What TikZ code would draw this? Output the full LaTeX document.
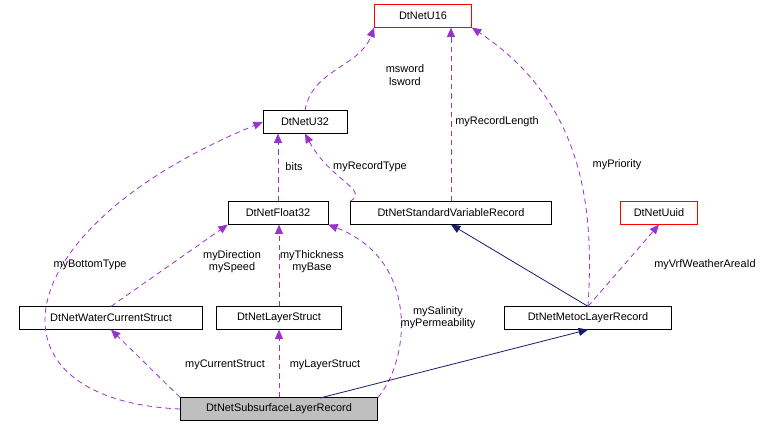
\documentclass[tikz,border=0pt]{standalone}
\usepackage{fontspec}
\setmainfont{Liberation Sans}
\usetikzlibrary{arrows.meta}
\definecolor{pur}{RGB}{153,50,204}
\definecolor{nav}{RGB}{25,25,112}
\begin{document}
\begin{tikzpicture}[x=0.75pt,y=-0.75pt,font=\fontsize{8.2}{9.2}\selectfont,
  box/.style={draw=black,fill=white,minimum height=17pt,inner xsep=2pt,anchor=center},
  redbox/.style={box,draw=red},
  dep/.style={pur,line width=0.6pt,dash pattern=on 4pt off 3pt,
    -{Triangle[length=7pt,width=6pt,fill=pur]}},
  inh/.style={nav,line width=0.6pt,
    -{Triangle[length=7pt,width=6pt,fill=nav]}},
  lbl/.style={align=center,inner sep=1pt,text=black}]
\useasboundingbox (0,0) rectangle (773,429);
\node[redbox,minimum width=73pt] (u16) at (423,16) {DtNetU16};
\node[box,minimum width=63pt] (u32) at (305,122) {DtNetU32};
\node[box,minimum width=75pt] (f32) at (278,213) {DtNetFloat32};
\node[box,minimum width=151pt] (std) at (451,213) {DtNetStandardVariableRecord};
\node[redbox,minimum width=58pt] (uuid) at (659,213) {DtNetUuid};
\node[box,minimum width=137pt] (wcs) at (111,318) {DtNetWaterCurrentStruct};
\node[box,minimum width=94pt] (ls) at (279,318) {DtNetLayerStruct};
\node[box,minimum width=125pt] (met) at (588,318) {DtNetMetocLayerRecord};
\node[box,fill={rgb,255:red,191;green,191;blue,191},minimum width=148pt] (sub) at (279,409) {DtNetSubsurfaceLayerRecord};
\coordinate (subr) at (320,398);

\draw[dep] (u32.north) to[out=80,in=-110] (u16.south west);
\node[lbl] at (405,75) {msword\\lsword};
\draw[dep] (std.north) -- (std.north |- u16.south);
\node[lbl] at (497,122) {myRecordLength};
\draw[dep] (met.north) .. controls (595,200) and (580,100) .. (u16.south east);
\node[lbl] at (617,165) {myPriority};
\draw[dep] (std.north west) .. controls (370,190) and (330,180) .. (u32.south);
\node[lbl] at (370,167) {myRecordType};
\draw[dep] (f32.north) -- (f32.north |- u32.south);
\node[lbl] at (294,167) {bits};
\draw[dep] (sub.west) .. controls (-20,400) and (0,230) .. (u32.west);
\node[lbl] at (90,265) {myBottomType};
\draw[dep] (wcs.north) -- (f32.south west);
\node[lbl] at (232,262) {myDirection\\mySpeed};
\draw[dep] (ls.north) -- (ls.north |- f32.south);
\node[lbl] at (312,262) {myThickness\\myBase};
\draw[dep] (sub.north east) .. controls (410,360) and (420,260) .. (f32.south east);
\node[lbl] at (438,318) {mySalinity\\myPermeability};
\draw[dep] (met.north) -- (uuid.south);
\node[lbl] at (705,265) {myVrfWeatherAreaId};
\draw[inh] (met.north) -- (std.south);
\draw[inh] (subr) -- (met.south);
\draw[dep] (sub.north west) -- (wcs.south);
\node[lbl] at (225,365) {myCurrentStruct};
\draw[dep] (sub.north) -- (ls.south);
\node[lbl] at (325,365) {myLayerStruct};
\end{tikzpicture}
\end{document}
